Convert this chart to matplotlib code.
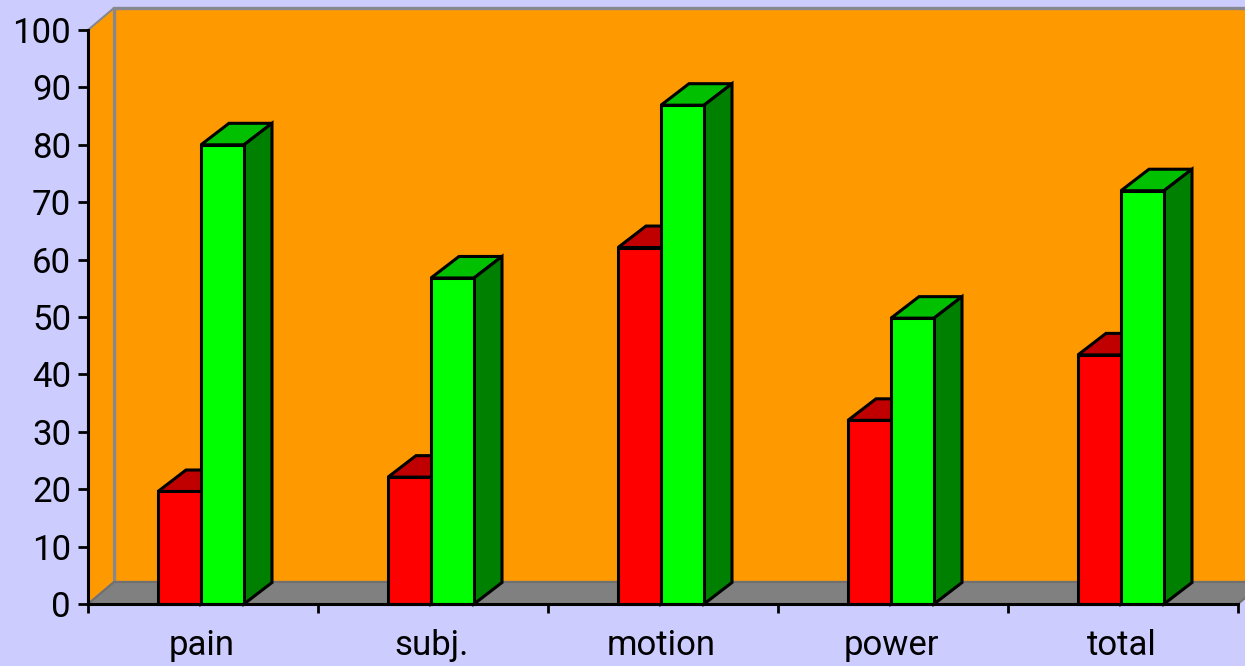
import matplotlib
matplotlib.use('Agg')
import matplotlib.pyplot as plt
from matplotlib.patches import Polygon
import numpy as np

categories = ['pain', 'subj.', 'motion', 'power', 'total']
red_values = [19.6, 22.1, 62.1, 32.0, 43.4]
green_values = [80.0, 56.8, 86.9, 49.8, 72.0]
y_ticks = list(range(0, 101, 10))

# 3d look, in data units
wall_dx = 26 / 230
wall_dy = 22 / 5.74
bar_dx = 28 / 230
bar_dy = 21.5 / 5.74
bar_w = 43 / 230

plt.rcParams['font.family'] = ['Roboto', 'DejaVu Sans']

fig = plt.figure(figsize=(12.45, 6.66), dpi=100, facecolor='#CCCCFF')
ax = fig.add_axes([88 / 1245, 62 / 666, 1150 / 1245, 574 / 666])
ax.set_xlim(0, 5)
ax.set_ylim(0, 100)
ax.patch.set_visible(False)


def face(points, color, edge='black', lw=2.2, z=3):
    ax.add_patch(Polygon(points, closed=True, facecolor=color, edgecolor=edge,
                         linewidth=lw, zorder=z, clip_on=False, joinstyle='miter'))


# walls and floor
face([(wall_dx, wall_dy), (5.3, wall_dy), (5.3, 100 + wall_dy), (wall_dx, 100 + wall_dy)],
     '#FF9900', edge='#878790', lw=2.4, z=1)
face([(0, 0), (wall_dx, wall_dy), (wall_dx, 100 + wall_dy), (0, 100)],
     '#FF9900', edge='#878790', lw=1.5, z=1.2)
face([(0, 0), (5, 0), (5 + wall_dx, wall_dy), (wall_dx, wall_dy)],
     '#808080', edge='#707070', lw=1.5, z=1.5)


def draw_bar(x, value, front, top, side, z):
    right = x + bar_w
    face([(x, value), (x + bar_dx, value + bar_dy), (right + bar_dx, value + bar_dy), (right, value)], top, z=z)
    face([(right, 0), (right + bar_dx, bar_dy), (right + bar_dx, value + bar_dy), (right, value)], side, z=z)
    ax.bar(x, value, width=bar_w, align='edge', color=front, edgecolor='black',
           linewidth=2.2, zorder=z + 0.1, clip_on=False)


for i in range(len(categories)):
    center = i + 0.5 - 2 / 230
    draw_bar(center - bar_w, red_values[i], '#FF0000', '#C00000', '#800000', 3 + i)
    draw_bar(center, green_values[i], '#00FF00', '#00C000', '#008000', 3.5 + i)

for side in ['top', 'right']:
    ax.spines[side].set_visible(False)
for side in ['left', 'bottom']:
    ax.spines[side].set_linewidth(2.2)
    ax.spines[side].set_zorder(20)

ax.set_yticks(y_ticks)
ax.tick_params(axis='y', length=7.2, width=2, pad=5, labelsize=25, colors='black')
ax.set_xticks(range(6))
ax.set_xticklabels([])
ax.tick_params(axis='x', which='major', length=6.5, width=2)
ax.set_xticks(np.arange(5) + 0.5 - 1.5 / 230, minor=True)
ax.set_xticklabels(categories, minor=True, fontsize=25)
ax.tick_params(axis='x', which='minor', length=0, pad=18)

fig.savefig('out.png', dpi=100, facecolor=fig.get_facecolor())
